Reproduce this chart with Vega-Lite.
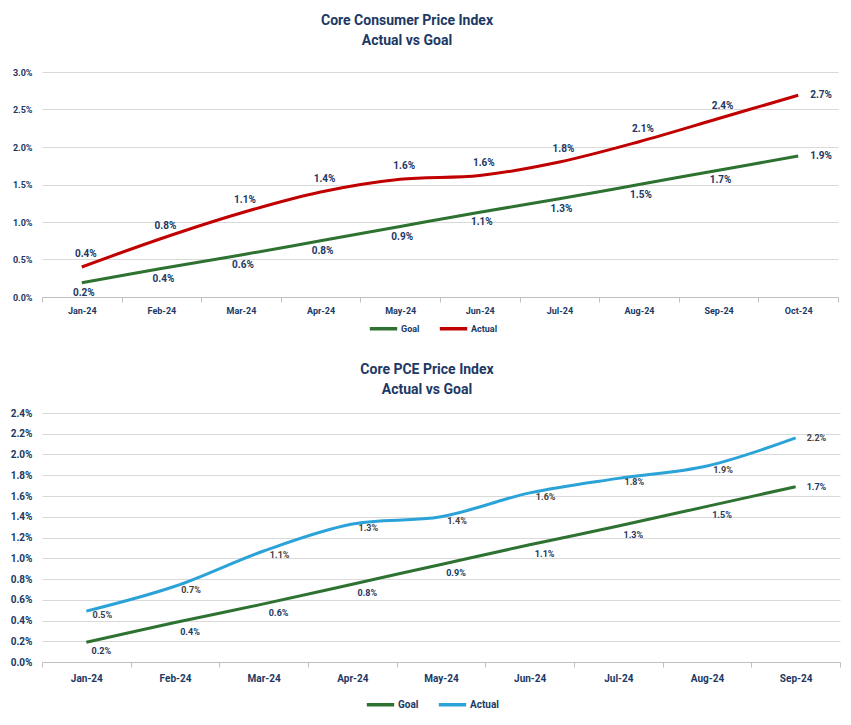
{
  "$schema": "https://vega.github.io/schema/vega-lite/v6.json",
  "padding": {"left": 10, "top": 14, "right": 5, "bottom": 5},
  "background": "white",
  "config": {
    "font": "Roboto",
    "view": {"stroke": null},
    "axis": {"labelFont": "Roboto", "labelFontWeight": "bold", "labelColor": "#203864"},
    "legend": {"labelFont": "Roboto", "labelFontWeight": "bold", "labelColor": "#203864"},
    "title": {"font": "Roboto", "fontWeight": "bold", "color": "#203864", "fontSize": 14, "lineHeight": 20, "anchor": "middle"}
  },
  "datasets": {
    "cpi": [
      {"month": "Jan-24", "series": "Goal", "value": 0.0019},
      {"month": "Feb-24", "series": "Goal", "value": 0.0038},
      {"month": "Mar-24", "series": "Goal", "value": 0.0056},
      {"month": "Apr-24", "series": "Goal", "value": 0.0075},
      {"month": "May-24", "series": "Goal", "value": 0.0094},
      {"month": "Jun-24", "series": "Goal", "value": 0.0113},
      {"month": "Jul-24", "series": "Goal", "value": 0.0131},
      {"month": "Aug-24", "series": "Goal", "value": 0.0150},
      {"month": "Sep-24", "series": "Goal", "value": 0.0169},
      {"month": "Oct-24", "series": "Goal", "value": 0.0188},
      {"month": "Jan-24", "series": "Actual", "value": 0.0040},
      {"month": "Feb-24", "series": "Actual", "value": 0.0078},
      {"month": "Mar-24", "series": "Actual", "value": 0.0112},
      {"month": "Apr-24", "series": "Actual", "value": 0.0140},
      {"month": "May-24", "series": "Actual", "value": 0.0157},
      {"month": "Jun-24", "series": "Actual", "value": 0.0162},
      {"month": "Jul-24", "series": "Actual", "value": 0.0180},
      {"month": "Aug-24", "series": "Actual", "value": 0.0207},
      {"month": "Sep-24", "series": "Actual", "value": 0.0238},
      {"month": "Oct-24", "series": "Actual", "value": 0.0269}
    ],
    "pce": [
      {"month": "Jan-24", "series": "Goal", "value": 0.0019},
      {"month": "Feb-24", "series": "Goal", "value": 0.0038},
      {"month": "Mar-24", "series": "Goal", "value": 0.0056},
      {"month": "Apr-24", "series": "Goal", "value": 0.0075},
      {"month": "May-24", "series": "Goal", "value": 0.0094},
      {"month": "Jun-24", "series": "Goal", "value": 0.0113},
      {"month": "Jul-24", "series": "Goal", "value": 0.0131},
      {"month": "Aug-24", "series": "Goal", "value": 0.0150},
      {"month": "Sep-24", "series": "Goal", "value": 0.0169},
      {"month": "Jan-24", "series": "Actual", "value": 0.0049},
      {"month": "Feb-24", "series": "Actual", "value": 0.0073},
      {"month": "Mar-24", "series": "Actual", "value": 0.0107},
      {"month": "Apr-24", "series": "Actual", "value": 0.0133},
      {"month": "May-24", "series": "Actual", "value": 0.0140},
      {"month": "Jun-24", "series": "Actual", "value": 0.0163},
      {"month": "Jul-24", "series": "Actual", "value": 0.0177},
      {"month": "Aug-24", "series": "Actual", "value": 0.0189},
      {"month": "Sep-24", "series": "Actual", "value": 0.0216}
    ]
  },
  "vconcat": [
    {
      "width": 796,
      "height": 225,
      "title": {"text": ["Core Consumer Price Index", "Actual vs Goal"], "dx": -33, "offset": 20},
      "data": {"name": "cpi"},
      "encoding": {
        "x": {"field": "month", "type": "nominal", "sort": ["Jan-24","Feb-24","Mar-24","Apr-24","May-24","Jun-24","Jul-24","Aug-24","Sep-24","Oct-24"],
              "scale": {"paddingInner": 0, "paddingOuter": 0},
              "axis": {"title": null, "labelAngle": 0, "labelFontSize": 9, "labelPadding": 4, "tickBand": "extent", "tickSize": 5, "tickColor": "#BFBFBF", "domainColor": "#BFBFBF", "grid": false}},
        "y": {"field": "value", "type": "quantitative", "scale": {"domain": [0, 0.03]},
              "axis": {"title": null, "format": ".1%", "values": [0, 0.005, 0.01, 0.015, 0.02, 0.025, 0.03], "labelFontSize": 9, "labelPadding": 10, "domain": false, "ticks": false, "gridColor": "#D9D9D9"}}
      },
      "layer": [
        {
          "mark": {"type": "line", "strokeWidth": 3, "interpolate": "catmull-rom"},
          "encoding": {
            "color": {"field": "series", "type": "nominal",
                      "scale": {"domain": ["Goal", "Actual"], "range": ["#2E7231", "#C00000"]},
                      "legend": {"title": null, "orient": "none", "legendX": 326, "legendY": 241, "direction": "horizontal", "symbolType": "stroke", "symbolStrokeWidth": 3.5, "symbolSize": 750, "labelFontSize": 9, "columnPadding": 12, "labelOffset": 2}}
          }
        },
        {
          "transform": [{"filter": "datum.series === 'Actual' && datum.month !== 'Oct-24'"}],
          "mark": {"type": "text", "fontSize": 10, "fontWeight": "bold", "color": "#203864", "dy": -13, "dx": 4},
          "encoding": {"text": {"field": "value", "type": "quantitative", "format": ".1%"}}
        },
        {
          "transform": [{"filter": "datum.series === 'Goal' && datum.month !== 'Oct-24'"}],
          "mark": {"type": "text", "fontSize": 10, "fontWeight": "bold", "color": "#203864", "dy": 10, "dx": 2},
          "encoding": {"text": {"field": "value", "type": "quantitative", "format": ".1%"}}
        },
        {
          "transform": [{"filter": "datum.month === 'Oct-24'"}],
          "mark": {"type": "text", "fontSize": 10, "fontWeight": "bold", "color": "#203864", "align": "left", "dx": 12},
          "encoding": {"text": {"field": "value", "type": "quantitative", "format": ".1%"}}
        }
      ]
    },
    {
      "width": 798,
      "height": 249,
      "title": {"text": ["Core PCE Price Index", "Actual vs Goal"], "dx": -14, "offset": 11},
      "data": {"name": "pce"},
      "encoding": {
        "x": {"field": "month", "type": "nominal", "sort": ["Jan-24","Feb-24","Mar-24","Apr-24","May-24","Jun-24","Jul-24","Aug-24","Sep-24"],
              "scale": {"paddingInner": 0, "paddingOuter": 0},
              "axis": {"title": null, "labelAngle": 0, "labelFontSize": 10, "labelPadding": 6, "tickBand": "extent", "tickSize": 5, "tickColor": "#BFBFBF", "domainColor": "#BFBFBF", "grid": false}},
        "y": {"field": "value", "type": "quantitative", "scale": {"domain": [0, 0.024]},
              "axis": {"title": null, "format": ".1%", "values": [0, 0.002, 0.004, 0.006, 0.008, 0.01, 0.012, 0.014, 0.016, 0.018, 0.02, 0.022, 0.024], "labelFontSize": 10, "labelPadding": 10, "domain": false, "ticks": false, "gridColor": "#D9D9D9"}}
      },
      "layer": [
        {
          "mark": {"type": "line", "strokeWidth": 3, "interpolate": "catmull-rom"},
          "encoding": {
            "color": {"field": "series", "type": "nominal",
                      "scale": {"domain": ["Goal", "Actual"], "range": ["#2E7231", "#2BA3D8"]},
                      "legend": {"title": null, "orient": "none", "legendX": 323, "legendY": 276, "direction": "horizontal", "symbolType": "stroke", "symbolStrokeWidth": 3.5, "symbolSize": 750, "labelFontSize": 10, "columnPadding": 12, "labelOffset": 2}}
          }
        },
        {
          "transform": [{"filter": "datum.series === 'Actual' && datum.month !== 'Sep-24'"}],
          "mark": {"type": "text", "fontSize": 9, "fontWeight": "bold", "color": "#404040", "dy": 4, "dx": 16},
          "encoding": {"text": {"field": "value", "type": "quantitative", "format": ".1%"}}
        },
        {
          "transform": [{"filter": "datum.series === 'Goal' && datum.month !== 'Sep-24'"}],
          "mark": {"type": "text", "fontSize": 9, "fontWeight": "bold", "color": "#203864", "dy": 9, "dx": 15},
          "encoding": {"text": {"field": "value", "type": "quantitative", "format": ".1%"}}
        },
        {
          "transform": [{"filter": "datum.month === 'Sep-24' && datum.series === 'Actual'"}],
          "mark": {"type": "text", "fontSize": 9, "fontWeight": "bold", "color": "#404040", "align": "left", "dx": 11},
          "encoding": {"text": {"field": "value", "type": "quantitative", "format": ".1%"}}
        },
        {
          "transform": [{"filter": "datum.month === 'Sep-24' && datum.series === 'Goal'"}],
          "mark": {"type": "text", "fontSize": 9, "fontWeight": "bold", "color": "#203864", "align": "left", "dx": 11},
          "encoding": {"text": {"field": "value", "type": "quantitative", "format": ".1%"}}
        }
      ]
    }
  ],
  "spacing": 27,
  "resolve": {"scale": {"color": "independent", "x": "independent", "y": "independent"}, "legend": {"color": "independent"}}
}
